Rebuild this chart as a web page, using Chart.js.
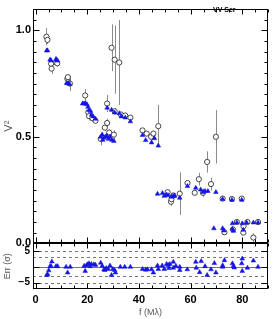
<!DOCTYPE html>
<html>
<head>
<meta charset="utf-8">
<script src="https://cdn.jsdelivr.net/npm/chart.js@4.4.1/dist/chart.umd.min.js"></script>
<style>
  html, body { margin: 0; padding: 0; background: #fff; }
  #vis-graph { display: block; }
</style>
</head>
<body>
<canvas id="vis-graph" width="273" height="319"></canvas>
<script>
// observed squared visibilities (open circles) with their errors
const obsF   = [4.2, 4.6, 6.0, 6.2, 7.9, 8.4, 12.3, 12.5, 13.3, 19.2, 20.4, 20.7, 22.0, 23.2,
                25.2, 26.8, 27.7, 27.7, 28.5, 29.4, 30.3, 30.6, 30.6, 32.4, 33.0, 34.7, 36.7,
                41.4, 43.0, 44.7, 45.6, 47.5, 51.1, 52.4, 52.6, 53.3, 55.8,
                58.8, 61.6, 63.2, 64.8, 66.4, 67.9, 69.8,
                72.4, 73.1, 76.0, 76.4, 77.9, 79.8, 80.4, 80.5, 82.0, 84.3, 86.1];
const obsV2  = [0.97, 0.955, 0.843, 0.82, 0.85, 0.845, 0.772, 0.78, 0.75, 0.694, 0.615, 0.597, 0.587, 0.575,
                0.49, 0.543, 0.656, 0.565, 0.52, 0.918, 0.51, 0.862, 0.62, 0.849, 0.605, 0.6, 0.59,
                0.53, 0.515, 0.5, 0.515, 0.55, 0.24, 0.195, 0.207, 0.225, 0.233,
                0.283, 0.237, 0.301, 0.237, 0.382, 0.278, 0.5,
                0.21, 0.052, 0.208, 0.065, 0.1, 0.21, 0.05, 0.08, 0.1, 0.027, 0.1];
const obsErr = [0.04, 0.02, 0.01, 0.025, 0.01, 0.015, 0.01, 0.012, 0.035, 0.03, 0.015, 0.02, 0.015, 0.01,
                0.03, 0.015, 0.04, 0.02, 0.015, 0.11, 0.02, 0.16, 0.015, 0.2, 0.01, 0.01, 0.012,
                0.01, 0.01, 0.01, 0.01, 0.1, 0.01, 0.02, 0.01, 0.01, 0.1,
                0.01, 0.01, 0.03, 0.02, 0.05, 0.03, 0.125,
                0.01, 0.01, 0.01, 0.01, 0.01, 0.01, 0.01, 0.01, 0.01, 0.02, 0.01];

// model squared visibilities (blue triangles)
const modF  = [4.3, 4.6, 5.6, 6.0, 7.9, 8.2, 8.5, 12.0, 12.6, 13.2,
               18.2, 18.8, 19.4, 19.9, 20.3, 20.7, 21.3, 21.7, 22.3, 23.2,
               25.2, 25.8, 26.0, 26.4, 27.0, 27.6, 27.7, 28.2, 28.8, 29.4, 29.5, 30.3, 30.6, 32.4, 33.2, 34.7, 36.7,
               41.4, 42.6, 44.9, 46.0, 47.2, 47.5,
               49.1, 49.8, 50.7, 51.3, 52.6, 53.3, 53.9, 55.8,
               58.8, 62.0, 63.9, 64.8, 65.6, 66.7, 69.0, 69.8,
               72.4, 72.4, 72.9, 76.0, 76.2, 76.2, 76.6, 77.9, 79.8, 80.0, 80.4, 81.7, 84.3, 86.1];
const modV2 = [0.905, 0.905, 0.862, 0.858, 0.865, 0.86, 0.857, 0.752, 0.75, 0.747,
               0.656, 0.656, 0.656, 0.652, 0.64, 0.625, 0.62, 0.603, 0.595, 0.584,
               0.5, 0.51, 0.485, 0.495, 0.5, 0.505, 0.636, 0.49, 0.5, 0.626, 0.485, 0.48, 0.613, 0.61, 0.595, 0.59, 0.572,
               0.508, 0.484, 0.473, 0.493, 0.232, 0.458,
               0.235, 0.222, 0.228, 0.225, 0.218, 0.222, 0.222, 0.213,
               0.268, 0.26, 0.252, 0.24, 0.245, 0.245, 0.07, 0.24,
               0.207, 0.07, 0.06, 0.204, 0.093, 0.067, 0.058, 0.097, 0.204, 0.093, 0.063, 0.097, 0.097, 0.097];

// normalised residuals (lower panel)
const resF   = [4.3, 4.7, 5.1, 5.6, 6.0, 6.3, 7.9, 8.5, 11.8, 12.4, 13.4,
                18.8, 19.2, 19.7, 20.1, 20.7, 21.2, 21.6, 22.6, 23.2,
                25.2, 25.8, 26.5, 26.8, 27.3, 28.1, 28.8, 29.4, 29.9, 30.6, 30.9, 32.8, 34.5, 36.7,
                41.4, 42.6, 43.3, 44.9, 45.6, 47.2, 47.5,
                49.0, 49.8, 50.7, 51.3, 51.6, 52.0, 53.3, 53.3, 54.3, 55.8, 55.8,
                58.7, 62.0, 62.2, 63.5, 64.1, 65.6, 66.4, 67.9, 69.2, 69.8,
                72.4, 72.4, 73.1, 76.2, 76.6, 76.9, 79.8, 80.0, 80.0, 82.0, 84.3, 86.1];
const resVal = [-2.6, -2.4, -1.1, 0.2, 0.2, 1.7, 0.2, 0.2, 0, -1.8, 0,
                0.3, -1.3, 0.5, 0.8, 1.1, 0.2, 0.9, 0.8, 0.6,
                1.3, 0.3, -0.8, -1.0, -0.4, -0.7, 0.4, -2.6, -0.7, -1.0, -1.8, 0, 0, 0,
                -0.7, -0.9, -0.8, -0.8, -1.8, 0.4, -0.7,
                0.4, -0.7, 0.9, 0.6, -0.4, 0.9, 1.6, -0.3, 0.3, 0, -1.0,
                -0.8, 1.6, -0.3, -1.7, 1.8, 0.2, -2.6, -0.8, 1.2, -1.8,
                0.5, 0, 2.1, 1.1, 0.3, -0.2, 1.1, 2.6, -1.3, -0.3, 2.0, 0];

const fTicks     = [0, 20, 40, 60, 80];
const v2Ticks    = [0, 0.5, 1.0];
const errTicks   = [-5, 0, 5];
const errDashed  = [-5, -3, 3, 5];
const starName   = 'VV Ser';

const BLUE = '#1414e6';

function toPoints(xs, ys) { // pairs two arrays into {x, y} points
    return xs.map((x, i) => ({ x: x, y: ys[i] }));
}

const panelPlugin = { // error bars, residual guide lines, frames and inward ticks
    id: 'panels',
    beforeDatasetsDraw(chart) {
        const ctx = chart.ctx;
        const x = chart.scales.x, y = chart.scales.y, yr = chart.scales.yr;
        ctx.save();
        // guide lines in the residual panel
        ctx.strokeStyle = '#777';
        ctx.lineWidth = 1;
        ctx.setLineDash([3, 3]);
        errDashed.forEach(v => {
            const py = Math.round(yr.getPixelForValue(v)) + 0.5;
            ctx.beginPath(); ctx.moveTo(x.left, py); ctx.lineTo(x.right, py); ctx.stroke();
        });
        ctx.setLineDash([]);
        const p0 = Math.round(yr.getPixelForValue(0)) + 0.5;
        ctx.beginPath(); ctx.moveTo(x.left, p0); ctx.lineTo(x.right, p0); ctx.stroke();
        // error bars
        ctx.beginPath();
        ctx.rect(x.left, y.top, x.right - x.left, y.bottom - y.top);
        ctx.clip();
        ctx.strokeStyle = '#8a8a8a';
        obsF.forEach((f, i) => {
            const px = Math.round(x.getPixelForValue(f)) + 0.5;
            ctx.beginPath();
            ctx.moveTo(px, y.getPixelForValue(obsV2[i] - obsErr[i]));
            ctx.lineTo(px, y.getPixelForValue(obsV2[i] + obsErr[i]));
            ctx.stroke();
        });
        ctx.restore();
    },
    afterDraw(chart) {
        const ctx = chart.ctx;
        const x = chart.scales.x, y = chart.scales.y, yr = chart.scales.yr;
        ctx.save();
        ctx.strokeStyle = '#000';
        ctx.lineWidth = 1;
        const L = Math.round(x.left) + 0.5, R = Math.round(x.right) - 0.5;
        [[y.top, y.bottom], [yr.top, yr.bottom]].forEach(([t, b]) => {
            const T = Math.round(t) + 0.5, B = Math.round(b) - 0.5;
            ctx.strokeRect(L, T, R - L, B - T);
            // x ticks on both edges of each panel
            for (let f = 0; f <= 90; f += 5) {
                const px = Math.round(x.getPixelForValue(f)) + 0.5;
                const len = f % 20 === 0 ? 5 : 3;
                ctx.beginPath();
                ctx.moveTo(px, T); ctx.lineTo(px, T + len);
                ctx.moveTo(px, B); ctx.lineTo(px, B - len);
                ctx.stroke();
            }
        });
        // V2 ticks
        for (let k = 0; k <= 22; k++) {
            const v = k * 0.05;
            const py = Math.round(y.getPixelForValue(v)) + 0.5;
            const len = k % 10 === 0 ? 6 : 3;
            ctx.beginPath();
            ctx.moveTo(L, py); ctx.lineTo(L + len, py);
            ctx.moveTo(R, py); ctx.lineTo(R - len, py);
            ctx.stroke();
        }
        // residual ticks
        errTicks.forEach(v => {
            const py = Math.round(yr.getPixelForValue(v)) + 0.5;
            ctx.beginPath();
            ctx.moveTo(L, py); ctx.lineTo(L + 6, py);
            ctx.moveTo(R, py); ctx.lineTo(R - 6, py);
            ctx.stroke();
        });
        // star name
        ctx.fillStyle = '#000';
        ctx.font = 'bold 7px "Liberation Sans", Arial, sans-serif';
        ctx.textAlign = 'left';
        ctx.textBaseline = 'middle';
        ctx.fillText(starName, 213, 10);
        ctx.restore();
    }
};

function visibilityGraph() { // builds the V2 + residual figure
    Chart.defaults.font.family = '"Liberation Sans", Arial, sans-serif';
    const ctx = document.getElementById('vis-graph').getContext('2d');
    new Chart(ctx, {
        type: 'scatter',
        data: {
            datasets: [
                {
                    label: 'Model',
                    data: toPoints(modF, modV2),
                    yAxisID: 'y',
                    pointStyle: 'triangle',
                    pointRadius: 2.7,
                    backgroundColor: BLUE,
                    borderColor: BLUE,
                    borderWidth: 0.5
                },
                {
                    label: 'Residual',
                    data: toPoints(resF, resVal),
                    yAxisID: 'yr',
                    pointStyle: 'triangle',
                    pointRadius: 2.7,
                    backgroundColor: BLUE,
                    borderColor: BLUE,
                    borderWidth: 0.5
                },
                {
                    label: 'Observed',
                    data: toPoints(obsF, obsV2),
                    yAxisID: 'y',
                    pointStyle: 'circle',
                    pointRadius: 2.6,
                    backgroundColor: '#fff',
                    borderColor: '#333',
                    borderWidth: 0.9
                }
            ]
        },
        options: {
            responsive: false,
            animation: false,
            devicePixelRatio: 1,
            layout: { padding: { top: 1, right: 3, left: 0, bottom: 0 } },
            plugins: { legend: { display: false }, tooltip: { enabled: false } },
            scales: {
                x: {
                    type: 'linear',
                    min: -1,
                    max: 90,
                    afterBuildTicks: s => { s.ticks = fTicks.map(v => ({ value: v })); },
                    afterFit: s => { s.height = 30; },
                    grid: { display: false, drawTicks: false },
                    border: { display: false },
                    ticks: { padding: 4, color: '#000', maxRotation: 0, font: { size: 11, weight: 'bold' } },
                    title: { display: true, text: 'f (Mλ)', color: '#555', font: { size: 9 }, padding: { top: 0, bottom: 1 } }
                },
                yr: {
                    type: 'linear',
                    position: 'left',
                    stack: 'panels',
                    stackWeight: 47,
                    min: -7,
                    max: 7.5,
                    afterBuildTicks: s => { s.ticks = errTicks.map(v => ({ value: v })); },
                    afterFit: s => { s.width = 33; },
                    grid: { display: false, drawTicks: false },
                    border: { display: false },
                    ticks: { padding: 3, color: '#000', font: { size: 10, weight: 'bold' }, callback: v => (v < 0 ? '\u2212' + Math.abs(v) : String(v)) },
                    title: { display: true, text: 'Err (σ)', color: '#555', font: { size: 9 }, padding: 2 }
                },
                y: {
                    type: 'linear',
                    position: 'left',
                    stack: 'panels',
                    stackWeight: 241,
                    min: 0,
                    max: 1.1,
                    afterBuildTicks: s => { s.ticks = v2Ticks.map(v => ({ value: v })); },
                    afterFit: s => { s.width = 33; },
                    grid: { display: false, drawTicks: false },
                    border: { display: false },
                    ticks: { padding: 2, color: '#000', font: { size: 11, weight: 'bold' }, callback: v => v.toFixed(1) },
                    title: { display: true, text: 'V²', color: '#555', font: { size: 11 }, padding: 2 }
                }
            }
        },
        plugins: [panelPlugin]
    });
}

window.onload = () => {
    visibilityGraph();
}
</script>
</body>
</html>
